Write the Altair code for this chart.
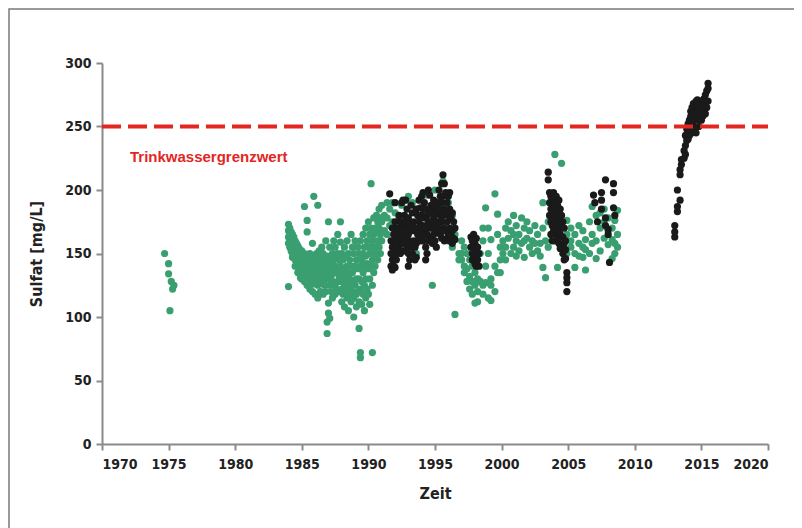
import altair as alt
import pandas as pd

# ---- data (year: list of sulfate values) ----
green_1975 = {1974.7: [150], 1975.0: [142, 134], 1975.2: [128], 1975.4: [125], 1975.3: [122], 1975.1: [105]}

green_1984_1991 = {
    1984.0: [173, 168, 163, 158, 124], 1984.1: [170, 165, 160, 155], 1984.2: [167, 162, 157, 152],
    1984.3: [165, 160, 150, 147], 1984.4: [163, 155, 148], 1984.5: [160, 152, 145, 140],
    1984.6: [158, 150, 143], 1984.7: [156, 148, 140, 135], 1984.8: [154, 146, 138],
    1984.9: [150, 143, 136, 131], 1985.0: [152, 145, 138, 130], 1985.1: [148, 140, 133],
    1985.2: [187, 150, 143, 135, 128], 1985.3: [145, 138, 130], 1985.4: [176, 167, 148, 140, 132, 125],
    1985.5: [143, 135, 127], 1985.6: [150, 140, 133, 122], 1985.7: [145, 137, 128],
    1985.8: [158, 140, 132, 120], 1985.9: [195, 148, 135, 126], 1986.0: [142, 135, 128, 118],
    1986.1: [150, 138, 130], 1986.2: [188, 145, 133, 125, 115], 1986.3: [152, 140, 130],
    1986.4: [147, 137, 127, 120], 1986.5: [155, 143, 133], 1986.6: [150, 140, 128, 118],
    1986.7: [145, 135, 125], 1986.8: [160, 140, 130, 120], 1986.9: [96, 87, 148, 135],
    1987.0: [175, 142, 130, 111, 103], 1987.1: [155, 138, 125, 99], 1987.2: [145, 132, 120],
    1987.3: [150, 140, 128, 115], 1987.4: [160, 145, 135], 1987.5: [155, 140, 125, 118],
    1987.6: [148, 135, 122], 1987.7: [165, 150, 138, 128], 1987.8: [145, 132, 120],
    1987.9: [175, 159, 140, 128], 1988.0: [150, 135, 122, 112], 1988.1: [145, 130, 118],
    1988.2: [155, 138, 125, 108], 1988.3: [148, 133, 120], 1988.4: [160, 140, 128, 115],
    1988.5: [150, 135, 122, 105], 1988.6: [145, 130, 118], 1988.7: [165, 140, 125, 112],
    1988.8: [155, 135, 120], 1988.9: [150, 128, 115, 100], 1989.0: [160, 140, 125],
    1989.1: [145, 130, 118, 108], 1989.2: [155, 138, 120], 1989.3: [91, 150, 130, 112],
    1989.4: [72, 68, 160, 140, 122], 1989.5: [145, 128, 110], 1989.6: [165, 150, 135, 118],
    1989.7: [155, 140, 125, 105], 1989.8: [170, 148, 130, 115], 1989.9: [160, 142, 122],
    1990.0: [175, 155, 138, 118], 1990.1: [165, 150, 130, 110], 1990.2: [205, 170, 155, 140],
    1990.3: [72, 160, 145, 125], 1990.4: [178, 165, 150, 135], 1990.5: [170, 155, 140],
    1990.6: [180, 168, 150], 1990.7: [175, 160, 145], 1990.8: [185, 170, 155],
    1990.9: [178, 165, 150], 1991.0: [188, 175, 160], 1991.2: [180, 168],
    1991.4: [190, 178, 165], 1991.6: [185, 172], 1991.8: [190, 175],
}

green_1992_2009 = {
    1992.0: [182, 165], 1992.3: [178], 1992.5: [188, 160], 1993.0: [195, 172], 1993.3: [190],
    1993.6: [185, 150], 1994.0: [180, 165], 1994.4: [196], 1994.8: [125], 1995.0: [200, 175],
    1995.3: [185], 1995.6: [207, 170], 1996.0: [190, 160], 1996.3: [180, 155], 1996.5: [165, 102],
    1996.8: [150, 145], 1997.0: [160, 150, 145], 1997.2: [155, 140, 135], 1997.4: [150, 138, 128],
    1997.6: [145, 132, 122], 1997.8: [140, 128, 118], 1998.0: [135, 125, 111],
    1998.2: [130, 120, 112], 1998.4: [150, 128], 1998.6: [160, 125, 118, 170],
    1998.8: [186, 140, 127], 1999.0: [170, 150, 115], 1999.2: [161, 130, 125, 113],
    1999.5: [197, 140, 120], 1999.7: [181, 165, 135], 1999.9: [155, 145, 135],
    2000.1: [160, 150], 2000.3: [170, 155, 145], 2000.5: [175, 162], 2000.7: [168, 150],
    2000.9: [180, 165, 155], 2001.1: [172, 160, 148], 2001.3: [165, 152], 2001.5: [178, 158],
    2001.7: [170, 160, 147], 2001.9: [175, 162], 2002.1: [168, 155], 2002.3: [160, 150],
    2002.5: [172, 158], 2002.7: [165, 152], 2002.9: [158, 148], 2003.1: [190, 170, 139],
    2003.3: [160, 131], 2003.5: [175, 155], 2004.0: [228, 170], 2004.2: [139],
    2004.5: [221, 160], 2004.9: [176, 165, 150], 2005.2: [170, 160, 155], 2005.5: [165, 150, 139],
    2005.8: [172, 158, 148], 2006.1: [168, 155, 147], 2006.3: [161, 153, 137], 2006.6: [175, 150],
    2006.8: [187, 165, 158], 2007.1: [180, 160, 146], 2007.4: [182, 170, 152],
    2007.7: [185, 175, 162], 2008.0: [178, 168, 157], 2008.3: [170, 161, 146],
    2008.5: [176, 158, 150], 2008.7: [184, 165, 155],
}

black_1991_1998 = {
    1991.6: [197], 1991.7: [160, 150, 140], 1991.8: [170, 155, 145, 137], 1991.9: [165, 150, 140],
    1992.0: [190, 175, 160, 148, 139], 1992.1: [170, 158, 145], 1992.2: [165, 152],
    1992.3: [180, 168, 155], 1992.4: [175, 162, 150], 1992.5: [190, 172, 160],
    1992.6: [192, 170, 158], 1992.7: [180, 165, 152], 1992.8: [192, 175, 160],
    1992.9: [185, 170, 155], 1993.0: [178, 165, 150, 140], 1993.1: [175, 160, 145],
    1993.2: [188, 170, 155], 1993.3: [182, 168, 150], 1993.4: [175, 160],
    1993.5: [170, 155, 145], 1993.6: [185, 168, 158, 147], 1993.7: [180, 165],
    1993.8: [192, 175, 162], 1993.9: [186, 172, 160], 1994.0: [195, 180, 168],
    1994.1: [198, 185, 172, 160], 1994.2: [190, 178, 165], 1994.3: [185, 170, 155, 145],
    1994.4: [180, 165, 150], 1994.5: [200, 175, 160], 1994.6: [196, 182, 170],
    1994.7: [188, 175, 163], 1994.8: [185, 170, 158], 1994.9: [192, 178, 165],
    1995.0: [188, 172, 160], 1995.1: [182, 168, 155], 1995.2: [190, 175],
    1995.3: [200, 185, 170], 1995.4: [195, 180, 165], 1995.5: [205, 190, 175, 162],
    1995.6: [212, 195, 180], 1995.7: [205, 185, 170, 160], 1995.8: [198, 182, 168],
    1995.9: [190, 175, 162], 1996.0: [195, 180, 165], 1996.1: [198, 185, 170, 160],
    1996.2: [178, 165], 1996.3: [182, 168, 158], 1996.4: [175, 162], 1996.5: [170, 161],
    1997.7: [163, 155], 1997.8: [160, 150, 145], 1997.9: [165, 155, 148],
    1998.0: [158, 150, 142], 1998.1: [162, 152, 140], 1998.2: [155, 145], 1998.3: [150, 140],
}

black_2003_2009 = {
    2003.5: [214, 208], 2003.6: [198, 190, 180], 2003.7: [195, 185, 175, 165],
    2003.8: [192, 182, 172, 160], 2003.9: [198, 188, 178, 168], 2004.0: [190, 180, 170, 160],
    2004.1: [195, 185, 175, 165], 2004.2: [188, 178, 168, 161], 2004.3: [192, 182, 172, 158],
    2004.4: [185, 175, 165, 154], 2004.5: [180, 170, 155], 2004.6: [175, 163, 150],
    2004.7: [170, 158, 145], 2004.8: [160, 153, 146], 2004.9: [135, 131, 127, 120],
    2006.9: [196], 2007.0: [190], 2007.2: [175], 2007.5: [198, 192, 185],
    2007.8: [208, 178, 172], 2008.0: [169, 165], 2008.1: [143], 2008.4: [205, 198, 186],
    2008.5: [180],
}

black_2013_2016 = {
    2013.0: [163, 167, 172], 2013.2: [183, 187, 200], 2013.4: [192, 212, 216],
    2013.5: [220, 224], 2013.7: [231, 225], 2013.8: [235, 243, 228], 2013.9: [239, 248],
    2014.0: [240, 245, 252], 2014.1: [247, 255, 243], 2014.2: [250, 258, 262],
    2014.3: [245, 252, 265], 2014.4: [255, 260, 268], 2014.5: [250, 258, 248],
    2014.6: [262, 270, 245], 2014.7: [258, 266, 271], 2014.8: [255, 262, 250],
    2014.9: [260, 265, 268], 2015.0: [255, 262, 270], 2015.1: [258, 265],
    2015.2: [263, 268, 272], 2015.3: [260, 270, 275], 2015.4: [265, 278],
    2015.5: [270, 280, 284],
}

limit_value = 250
limit_label = "Trinkwassergrenzwert"
x_ticks = list(range(1970, 2021, 5))
y_ticks = list(range(0, 301, 50))


def to_rows(groups, series):
    rows = []
    for g in groups:
        for yr, vals in g.items():
            for v in vals:
                rows.append({"Zeit": yr, "Sulfat": v, "serie": series})
    return rows


df = pd.DataFrame(
    to_rows([green_1975, green_1984_1991, green_1992_2009], "gruen")
    + to_rows([black_1991_1998, black_2003_2009, black_2013_2016], "schwarz")
)

FONT = "DejaVu Sans Condensed, Liberation Sans, Arial"
xs = alt.Scale(domain=[1970, 2020], nice=False, zero=False)
ys = alt.Scale(domain=[0, 300], nice=False)

points = alt.Chart(df).mark_circle(size=52, opacity=1).encode(
    x=alt.X("Zeit:Q", scale=xs,
            axis=alt.Axis(title="Zeit", values=x_ticks, format="d", grid=False)),
    y=alt.Y("Sulfat:Q", scale=ys,
            axis=alt.Axis(title="Sulfat [mg/L]", values=y_ticks, grid=False)),
    color=alt.Color("serie:N", scale=alt.Scale(domain=["gruen", "schwarz"],
                                               range=["#3a9f70", "#1a1a1a"]), legend=None),
    order=alt.Order("serie:N"),
)

limit_df = pd.DataFrame({"x0": [1970], "x1": [2020], "y": [limit_value]})
limit = alt.Chart(limit_df).mark_rule(color="#e3261f", strokeWidth=4, strokeDash=[19, 7]).encode(
    x="x0:Q", x2="x1:Q", y="y:Q"
)

label_df = pd.DataFrame({"x": [1972.1], "y": [226], "t": [limit_label]})
label = alt.Chart(label_df).mark_text(
    align="left", baseline="middle", color="#e3261f", font="Liberation Sans",
    fontSize=15, fontWeight="bold"
).encode(x="x:Q", y="y:Q", text="t:N")

# decorative outer frame of the figure (pixel positions relative to plot area)
frame = alt.Chart(pd.DataFrame({"k": [0]})).mark_rect(
    fill=None, stroke="#7a7a7a", strokeWidth=1.5
).encode(x=alt.value(-93), x2=alt.value(697), y=alt.value(-54), y2=alt.value(500))

chart = alt.layer(frame, points, limit, label).properties(
    width=666, height=381,
    autosize=alt.AutoSizeParams(type="none"),
    padding={"left": 94, "top": 55, "right": 26, "bottom": 84},
).configure_view(stroke=None).configure_axis(
    domainColor="#8a8a8a", domainWidth=2, tickColor="#8a8a8a", tickWidth=2, tickSize=6,
    labelFont=FONT, labelFontSize=14, labelFontWeight="bold", labelColor="#222222",
    titleFont=FONT, titleFontSize=16, titleFontWeight="bold", titleColor="#222222",
    labelPadding=7,
).configure_axisY(titlePadding=20, labelPadding=5).configure_axisX(titlePadding=14)

chart.save("out.html", embed_options={"renderer": "svg", "actions": False})
